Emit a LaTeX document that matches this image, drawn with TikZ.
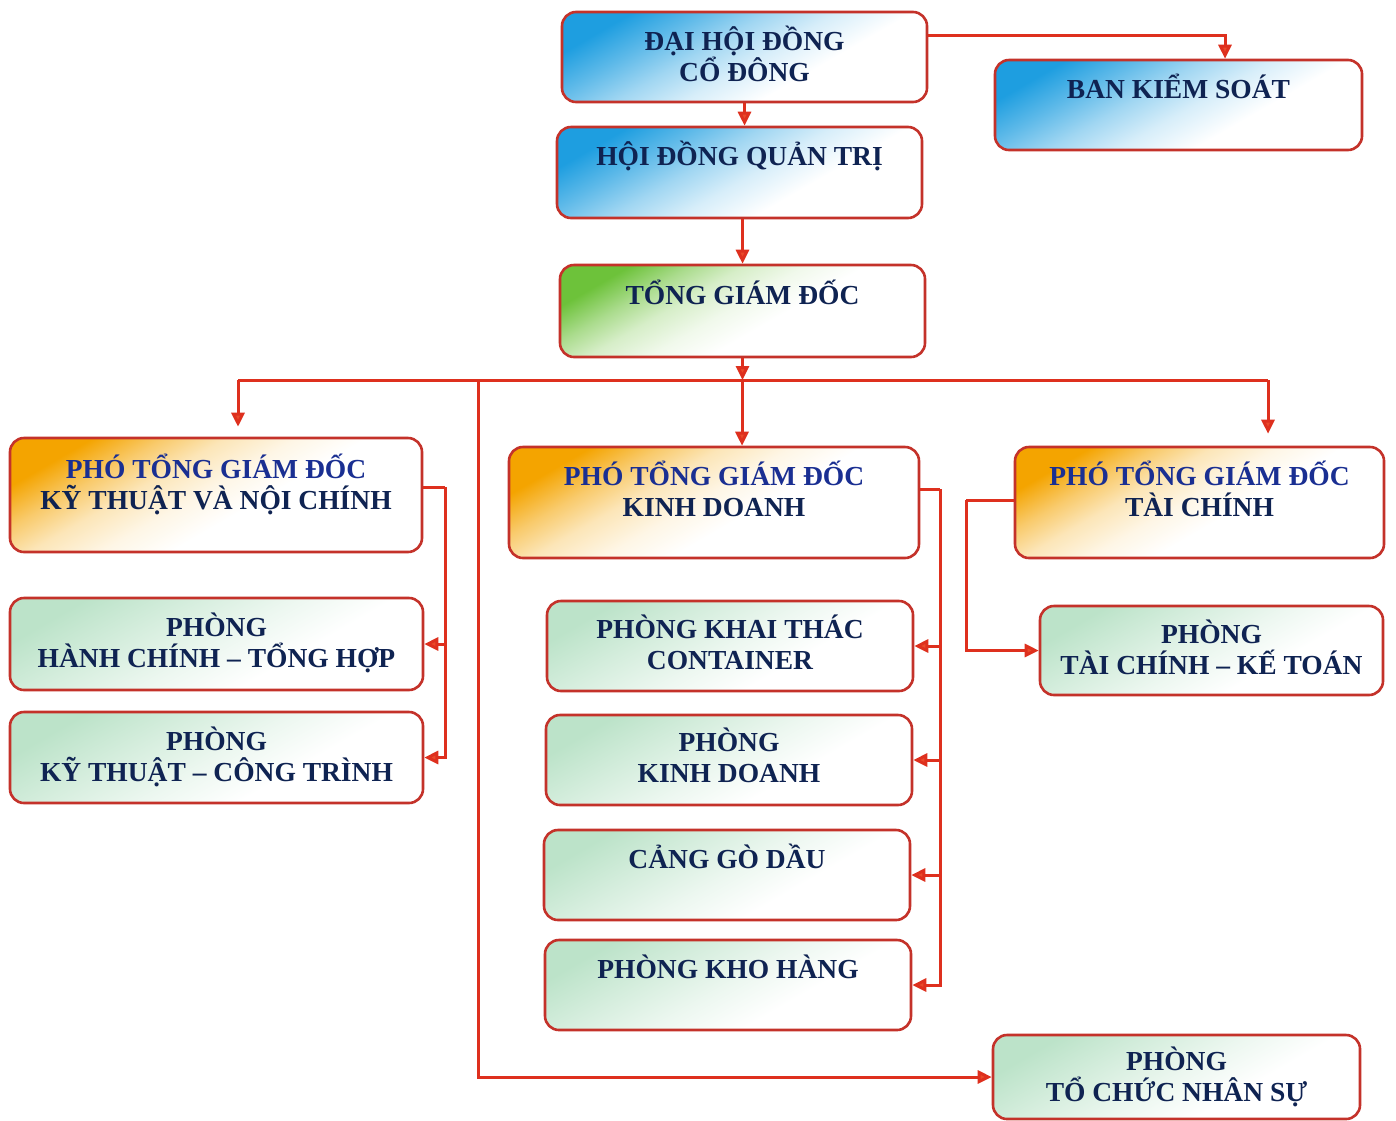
\documentclass[tikz,border=0pt]{standalone}
\usepackage{fontspec}
\setmainfont{Liberation Serif}
\usetikzlibrary{arrows.meta,calc}
\definecolor{boxred}{HTML}{C4322A}
\definecolor{linered}{HTML}{DE301E}
\definecolor{tipred}{HTML}{EA4A2A}
\definecolor{navy}{HTML}{0F2352}
\definecolor{pgdblue}{HTML}{1A2F92}
\definecolor{cblue}{HTML}{1E9EE0}
\definecolor{cgreen}{HTML}{6DC23A}
\definecolor{corange}{HTML}{F4A400}
\definecolor{cpale}{HTML}{BCE3C9}
\pgfdeclareverticalshading{shblue}{100bp}{color(0bp)=(white); color(38bp)=(white); color(48bp)=(cblue!18!white); color(57bp)=(cblue!42!white); color(66bp)=(cblue!72!white); color(75bp)=(cblue); color(100bp)=(cblue)}
\pgfdeclareverticalshading{shgreen}{100bp}{color(0bp)=(white); color(44bp)=(white); color(52bp)=(cgreen!10!white); color(60bp)=(cgreen!28!white); color(67bp)=(cgreen!58!white); color(75bp)=(cgreen); color(100bp)=(cgreen)}
\pgfdeclareverticalshading{shorange}{100bp}{color(0bp)=(white); color(44bp)=(white); color(52bp)=(corange!10!white); color(60bp)=(corange!28!white); color(67bp)=(corange!58!white); color(75bp)=(corange); color(100bp)=(corange)}
\pgfdeclareverticalshading{shpale}{100bp}{color(0bp)=(white); color(38bp)=(white); color(50bp)=(cpale!28!white); color(62bp)=(cpale!62!white); color(75bp)=(cpale); color(100bp)=(cpale)}
\begin{document}
\begin{tikzpicture}[x=1pt,y=-1pt,
  box/.style={draw=boxred, line width=2.6pt, rounded corners=14pt, inner sep=0pt},
  bluebox/.style={box, shade, shading=shblue, shading angle=30},
  greenbox/.style={box, shade, shading=shgreen, shading angle=30},
  orangebox/.style={box, shade, shading=shorange, shading angle=30},
  palebox/.style={box, shade, shading=shpale, shading angle=30},
  lbl/.style={font=\fontsize{27.5}{31}\selectfont\bfseries, text=navy, align=center, anchor=base, inner sep=0pt},
  wire/.style={draw=linered, line width=3pt},
  conn/.style={wire, -{Triangle[length=14pt,width=13pt,fill=tipred]}},
]
\useasboundingbox (0,0) rectangle (1396,1120);
\fill[white] (0,0) rectangle (1396,1120);

% boxes
\node[bluebox, minimum width=365pt, minimum height=90pt] (dh) at (744.5,57) {};
\node[bluebox, minimum width=367pt, minimum height=90pt] (bks) at (1178.5,105) {};
\node[bluebox, minimum width=365pt, minimum height=91pt] (hdqt) at (739.5,172.5) {};
\node[greenbox, minimum width=365pt, minimum height=92pt] (tgd) at (742.5,311) {};
\node[orangebox, minimum width=412pt, minimum height=114pt] (pkt) at (216,495) {};
\node[orangebox, minimum width=410pt, minimum height=111pt] (pkd) at (714,502.5) {};
\node[orangebox, minimum width=369pt, minimum height=111pt] (ptc) at (1199.5,502.5) {};
\node[palebox, minimum width=413pt, minimum height=92pt] (hcth) at (216.5,644) {};
\node[palebox, minimum width=413pt, minimum height=91pt] (ktct) at (216.5,757.5) {};
\node[palebox, minimum width=366pt, minimum height=90pt] (ktc) at (730,646) {};
\node[palebox, minimum width=366pt, minimum height=90pt] (kdp) at (729,760) {};
\node[palebox, minimum width=366pt, minimum height=90pt] (cgd) at (727,875) {};
\node[palebox, minimum width=366pt, minimum height=90pt] (kho) at (728,985) {};
\node[palebox, minimum width=343pt, minimum height=89pt] (tckt) at (1211.5,650.5) {};
\node[palebox, minimum width=367pt, minimum height=84pt] (tcns) at (1176.5,1077) {};

% texts (anchor base = baseline of last line)
\node[lbl] (dht) at ([yshift=-71pt]dh.north) {ĐẠI HỘI ĐỒNG\\CỔ ĐÔNG};
\node[lbl] (bkst) at ([yshift=-40pt]bks.north) {BAN KIỂM SOÁT};
\node[lbl] (hdqtt) at ([yshift=-40pt]hdqt.north) {HỘI ĐỒNG QUẢN TRỊ};
\node[lbl] (tgdt) at ([yshift=-41pt]tgd.north) {TỔNG GIÁM ĐỐC};
\node[lbl] (pktt) at ([yshift=-73pt]pkt.north) {\textcolor{pgdblue}{PHÓ TỔNG GIÁM ĐỐC}\\KỸ THUẬT VÀ NỘI CHÍNH};
\node[lbl] (pkdt) at ([yshift=-71pt]pkd.north) {\textcolor{pgdblue}{PHÓ TỔNG GIÁM ĐỐC}\\KINH DOANH};
\node[lbl] (ptct) at ([yshift=-71pt]ptc.north) {\textcolor{pgdblue}{PHÓ TỔNG GIÁM ĐỐC}\\TÀI CHÍNH};
\node[lbl] (hctht) at ([yshift=-71pt]hcth.north) {PHÒNG\\HÀNH CHÍNH – TỔNG HỢP};
\node[lbl] (ktctt) at ([yshift=-71pt]ktct.north) {PHÒNG\\KỸ THUẬT – CÔNG TRÌNH};
\node[lbl] (ktct2) at ([yshift=-70pt]ktc.north) {PHÒNG KHAI THÁC\\CONTAINER};
\node[lbl] (kdpt) at ([yshift=-69pt]kdp.north) {PHÒNG\\KINH DOANH};
\node[lbl] (cgdt) at ([yshift=-40pt]cgd.north) {CẢNG GÒ DẦU};
\node[lbl] (khot) at ([yshift=-40pt]kho.north) {PHÒNG KHO HÀNG};
\node[lbl] (tcktt) at ([yshift=-70pt]tckt.north) {PHÒNG\\TÀI CHÍNH – KẾ TOÁN};
\node[lbl] (tcnst) at ([yshift=-68pt]tcns.north) {PHÒNG\\TỔ CHỨC NHÂN SỰ};

% junction coordinates
\coordinate (busL) at (238,380);
\coordinate (bus) at (742,380);
\coordinate (busM) at (478,380);
\coordinate (busR) at (1268,380);
\coordinate (kt) at (445,487);
\coordinate (kd) at (940,489);
\coordinate (tcj) at (966,500);

% connectors
\draw[conn] (dh.south) -- (dh.south |- hdqt.north);
\draw[conn] ([yshift=22pt]dh.east) -| ([xshift=46.5pt]bks.north);
\draw[conn] (tgd.north |- hdqt.south) -- (tgd.north);
\draw[conn] (tgd.south) -- (tgd.south |- bus);
\draw[wire] (busL) -- (busR);
\draw[conn] (busL) -- ([yshift=10pt]busL |- pkt.north);
\draw[conn] (bus) -- (bus |- pkd.north);
\draw[conn] (busR) -- ([yshift=12pt]busR |- ptc.north);
\draw[conn] (busM) |- (tcns.west);
\draw[wire] ([yshift=8pt]pkt.east) -- (kt);
\draw[conn] (kt) |- (ktct.east);
\draw[conn] (kt |- hcth.east) -- (hcth.east);
\draw[wire] ([yshift=13.5pt]pkd.east) -- (kd);
\draw[conn] (kd) |- (kho.east);
\draw[conn] (kd |- ktc.east) -- (ktc.east);
\draw[conn] (kd |- kdp.east) -- (kdp.east);
\draw[conn] (kd |- cgd.east) -- (cgd.east);
\draw[wire] ([yshift=2.5pt]ptc.west) -- (tcj);
\draw[conn] (tcj) |- (tckt.west);
\end{tikzpicture}
\end{document}
